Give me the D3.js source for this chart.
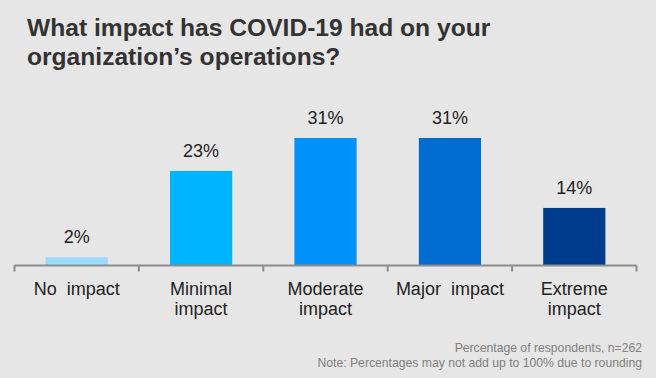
<!DOCTYPE html>
<html>
<head>
<meta charset="utf-8">
<script src="https://cdn.jsdelivr.net/npm/d3@7"></script>
<style>
  html, body { margin: 0; padding: 0; background: #e7e6e6; }
  svg { display: block; font-family: "Liberation Sans", Arial, sans-serif; }
</style>
</head>
<body>
<div id="chart"></div>
<script>
// chart data
var categories = ["No  impact", "Minimal|impact", "Moderate|impact", "Major  impact", "Extreme|impact"];
var values = [2, 23, 31, 31, 14];
var barColors = ["#9bdcfd", "#00b4fd", "#0091fa", "#006bd0", "#003c8c"];
var titleLines = ["What impact has COVID-19 had on your", "organization\u2019s operations?"];
var notes = ["Percentage of respondents, n=262", "Note: Percentages may not add up to 100% due to rounding"];

var width = 656, height = 378;
var margin = {left: 14.5, right: 19.5, axisY: 265.5};

var svg = d3.select("#chart").append("svg")
    .attr("width", width)
    .attr("height", height);

svg.append("rect")
    .attr("width", width)
    .attr("height", height)
    .attr("fill", "#e7e6e6");

//Title
svg.append("g").selectAll("text")
    .data(titleLines)
    .enter()
    .append("text")
    .attr("x", 27)
    .attr("y", function (d, i) { return 36 + i * 29; })
    .attr("font-size", 24.6)
    .attr("font-weight", "bold")
    .attr("fill", "#333333")
    .text(function (d) { return d; });

var xScale = d3.scaleBand()
    .domain(categories)
    .range([margin.left, width - margin.right])
    .paddingInner(0)
    .paddingOuter(0);

var yScale = d3.scaleLinear()
    .domain([0, 31])
    .range([margin.axisY, 138]);

var barWidth = xScale.bandwidth() / 2;

//Bars
svg.append("g").selectAll("rect")
    .data(values)
    .enter()
    .append("rect")
    .attr("x", function (d, i) { return xScale(categories[i]) + (xScale.bandwidth() - barWidth) / 2; })
    .attr("y", function (d) { return yScale(d); })
    .attr("width", barWidth)
    .attr("height", function (d) { return yScale(0) - yScale(d); })
    .attr("fill", function (d, i) { return barColors[i]; });

//Value labels
svg.append("g").selectAll("text")
    .data(values)
    .enter()
    .append("text")
    .attr("x", function (d, i) { return xScale(categories[i]) + xScale.bandwidth() / 2; })
    .attr("y", function (d) { return yScale(d) - 14; })
    .attr("text-anchor", "middle")
    .attr("font-size", 18)
    .attr("fill", "#222222")
    .text(function (d) { return d + "%"; });

//Axis line and ticks between categories
var axis = svg.append("g");
axis.append("line")
    .attr("x1", margin.left)
    .attr("x2", width - margin.right)
    .attr("y1", margin.axisY)
    .attr("y2", margin.axisY)
    .attr("stroke", "#8c8c8c")
    .attr("stroke-width", 2);

var tickPos = categories.map(function (c) { return xScale(c); });
tickPos.push(width - margin.right);
axis.selectAll(".tick")
    .data(tickPos)
    .enter()
    .append("line")
    .attr("class", "tick")
    .attr("x1", function (d) { return d; })
    .attr("x2", function (d) { return d; })
    .attr("y1", margin.axisY)
    .attr("y2", margin.axisY + 6)
    .attr("stroke", "#8c8c8c")
    .attr("stroke-width", 2);

//Category labels (may wrap to two lines)
var catText = svg.append("g").selectAll("text")
    .data(categories)
    .enter()
    .append("text")
    .attr("text-anchor", "middle")
    .attr("font-size", 18)
    .attr("fill", "#222222")
    .style("white-space", "pre")
    .attr("xml:space", "preserve");

catText.each(function (d) {
    var cx = xScale(d) + xScale.bandwidth() / 2;
    var lines = d.split("|");
    d3.select(this).selectAll("tspan")
        .data(lines)
        .enter()
        .append("tspan")
        .attr("x", cx)
        .attr("y", function (l, i) { return 295 + i * 19.5; })
        .text(function (l) { return l; });
});

//Footnotes
svg.append("g").selectAll("text")
    .data(notes)
    .enter()
    .append("text")
    .attr("x", 642)
    .attr("y", function (d, i) { return 351.7 + i * 15; })
    .attr("text-anchor", "end")
    .attr("font-size", 12.2)
    .attr("fill", "#7f7f7f")
    .text(function (d) { return d; });
</script>
</body>
</html>
